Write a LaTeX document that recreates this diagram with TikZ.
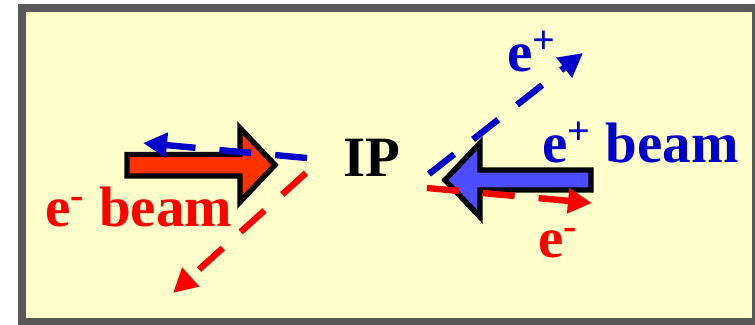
\documentclass[tikz,border=0pt]{standalone}
\usepackage{fontspec}
\setmainfont{Liberation Serif}
\usetikzlibrary{arrows.meta}
\definecolor{framegray}{RGB}{89,89,89}
\definecolor{paper}{RGB}{255,255,204}
\definecolor{eminus}{RGB}{255,0,0}
\definecolor{eplus}{RGB}{0,0,204}
\definecolor{redfill}{RGB}{255,51,0}
\definecolor{bluefill}{RGB}{77,77,255}

\begin{document}
\begin{tikzpicture}[
    x=0.5pt, y=-0.5pt,
    >={Triangle[length=12pt,width=12pt]},
    lbl/.style={
        anchor=base west,
        inner sep=0pt,
        font=\fontsize{28.5}{30}\selectfont\bfseries
    },
    track/.style={
        ->,
        line width=3.2pt,
        dash pattern=on 16pt off 12pt
    },
    beam/.style={
        draw=black,
        line width=2.7pt,
        miter limit=10
    }
]
\useasboundingbox (0,0) rectangle (755,325);
\draw[framegray, line width=4pt, fill=paper] (22,8) rectangle (756,322);

% the two incoming beams
\draw[beam, fill=redfill] (127,154.5) -- (240,154.5) -- (240,128) -- (275,165)
    -- (240,202) -- (240,176) -- (127,176) -- cycle;
\draw[beam, fill=bluefill] (591,170) -- (480,170) -- (480,143) -- (445,180)
    -- (480,217) -- (480,190) -- (591,190) -- cycle;

% outgoing particles
\coordinate (pw0) at (307,158);
\coordinate (pw1) at (143,143);
\coordinate (ew0) at (306,173);
\coordinate (ew1) at (173,293);
\coordinate (pe0) at (429,174);
\coordinate (pe1) at (583,53);
\coordinate (ee0) at (427,188);
\coordinate (ee1) at (592,203);

\draw[track, eplus] (pw0) -- (pw1);
\draw[track, eminus] (ew0) -- (ew1);
\draw[track, eplus] (pe0) -- (pe1);
\draw[track, eminus] (ee0) -- (ee1);

\node[lbl, eminus] (ebeam) at (45,227) {e\textsuperscript{-} beam};
\node[lbl] (ip) at (343,177) {IP};
\node[lbl, eplus] (pbeam) at (542,163) {e\textsuperscript{+} beam};
\node[lbl, eplus] (pout) at (507,72) {e\textsuperscript{+}};
\node[lbl, eminus] (eout) at (538,258) {e\textsuperscript{-}};
\end{tikzpicture}
\end{document}
